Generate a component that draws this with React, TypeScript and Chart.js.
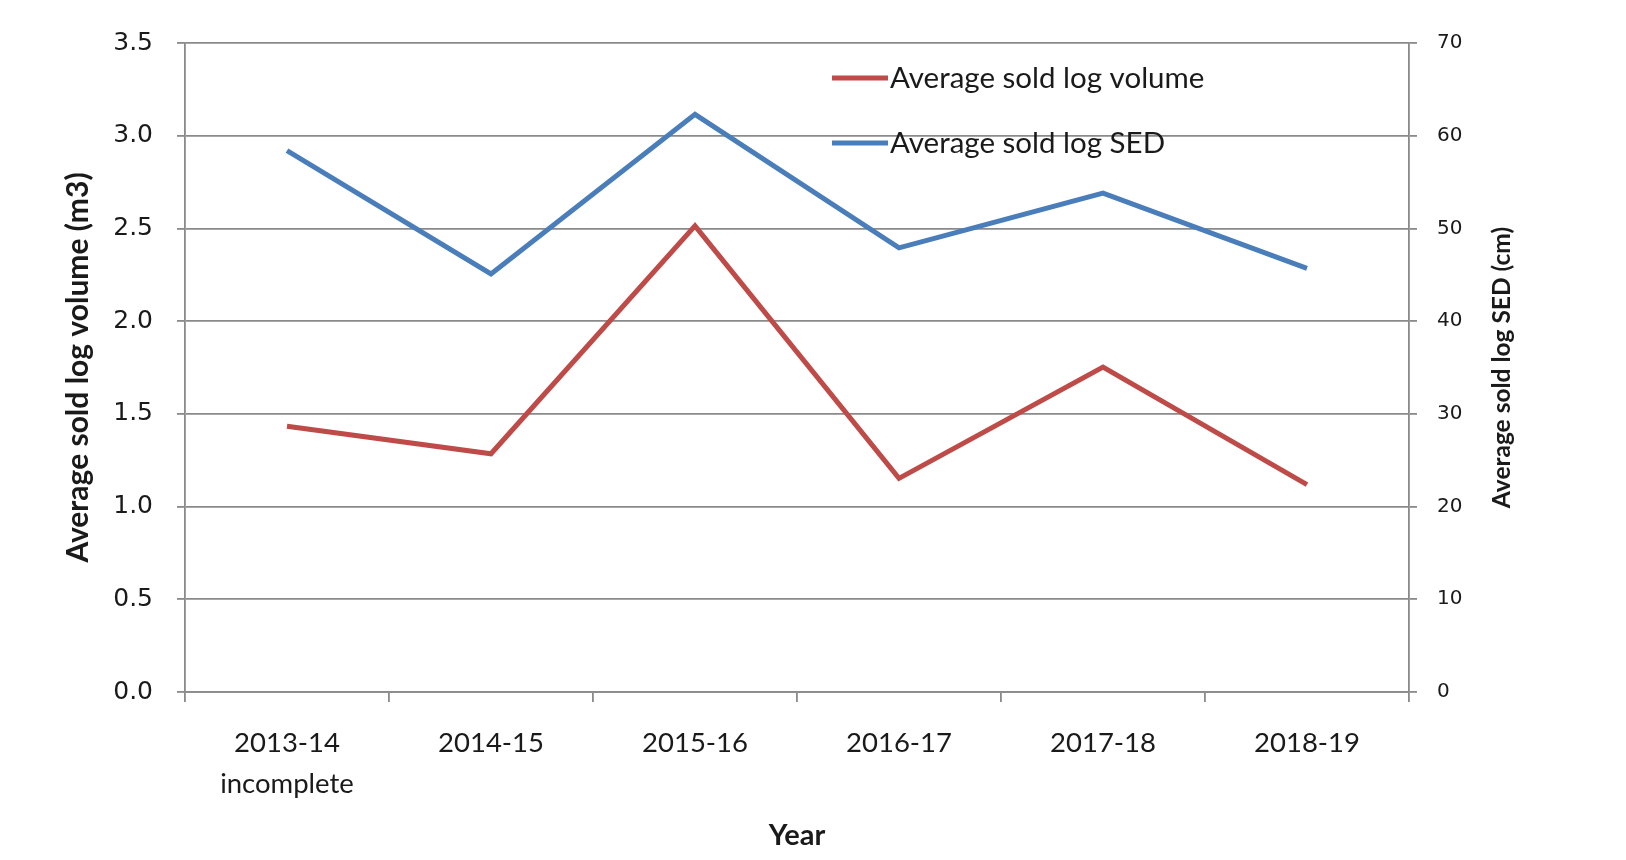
import React, { useEffect, useRef } from "react";
import { Chart, registerables } from "chart.js";

Chart.register(...registerables);

const categories: (string | string[])[] = [
  ["2013-14", "incomplete"],
  "2014-15",
  "2015-16",
  "2016-17",
  "2017-18",
  "2018-19",
];
const volumeValues = [1.433, 1.285, 2.514, 1.152, 1.752, 1.118];
const sedValues = [58.4, 45.1, 62.3, 47.9, 53.8, 45.7];
const seriesNames = ["Average sold log volume", "Average sold log SED"];
const leftTitle = "Average sold log volume (m3)";
const rightTitle = "Average sold log SED (cm)";
const xTitle = "Year";

const RED = "#BE4B48";
const BLUE = "#4A7EBB";
const GRID = "#8a8a8a";
const TEXT = "#1a1a1a";

const overlayPlugin = {
  id: "overlay",
  afterDatasetsDraw(chart: any) {
    const { ctx, chartArea } = chart;
    ctx.save();
    // legend inside plot
    const lx = chartArea.left + 647;
    const rows = [chartArea.top + 35, chartArea.top + 100];
    const colors = [RED, BLUE];
    ctx.font = "29.5px Lato";
    ctx.textBaseline = "middle";
    ctx.textAlign = "left";
    rows.forEach((y: number, i: number) => {
      ctx.strokeStyle = colors[i];
      ctx.lineWidth = 5;
      ctx.beginPath();
      ctx.moveTo(lx, y);
      ctx.lineTo(lx + 56, y);
      ctx.stroke();
      ctx.fillStyle = TEXT;
      ctx.fillText(seriesNames[i], lx + 58, y);
    });
    // right axis title (bottom-to-top)
    ctx.translate(1502, (chartArea.top + chartArea.bottom) / 2);
    ctx.rotate(-Math.PI / 2);
    ctx.font = "bold 24.5px Lato";
    ctx.textAlign = "center";
    ctx.fillStyle = TEXT;
    ctx.fillText(rightTitle, 0, 0);
    ctx.restore();
  },
};

export default function App() {
  const ref = useRef<HTMLCanvasElement>(null);
  useEffect(() => {
    if (!ref.current) return;
    const chart = new Chart(ref.current, {
      type: "line",
      data: {
        labels: categories,
        datasets: [
          {
            label: seriesNames[0],
            data: volumeValues,
            borderColor: RED,
            backgroundColor: RED,
            borderWidth: 5,
            pointRadius: 0,
            tension: 0,
            yAxisID: "y",
          },
          {
            label: seriesNames[1],
            data: sedValues,
            borderColor: BLUE,
            backgroundColor: BLUE,
            borderWidth: 5,
            pointRadius: 0,
            tension: 0,
            yAxisID: "y1",
          },
        ],
      },
      options: {
        animation: false,
        responsive: true,
        maintainAspectRatio: false,
        layout: { padding: { top: 43, left: 0, right: 0, bottom: 0 } },
        plugins: {
          legend: { display: false },
          tooltip: { enabled: false },
        },
        scales: {
          x: {
            type: "category",
            offset: true,
            grid: {
              offset: true,
              drawOnChartArea: false,
              drawTicks: true,
              tickLength: 10,
              color: GRID,
              lineWidth: 1.8,
            },
            border: { display: true, color: GRID, width: 1.8 },
            ticks: {
              color: TEXT,
              font: { family: "Lato", size: 27.5, lineHeight: 1.49 },
              padding: 21,
              maxRotation: 0,
              autoSkip: false,
            },
            title: {
              display: true,
              text: xTitle,
              color: TEXT,
              font: { family: "Lato", size: 29, weight: "bold" },
              padding: { top: 0, bottom: 7 },
            },
            afterFit: (s: any) => {
              s.height = 168;
            },
          },
          y: {
            type: "linear",
            position: "left",
            min: 0,
            max: 3.5,
            grid: {
              drawOnChartArea: true,
              drawTicks: true,
              tickLength: 8,
              color: GRID,
              lineWidth: 1.8,
            },
            border: { display: true, color: GRID, width: 1.8 },
            ticks: {
              stepSize: 0.5,
              color: TEXT,
              font: { family: "DejaVu Sans", size: 25 },
              padding: 24,
              callback: (v: any) => Number(v).toFixed(1),
            },
            title: {
              display: true,
              text: leftTitle,
              color: TEXT,
              font: { family: "Lato", size: 30, weight: "bold" },
              padding: { top: 60, bottom: 0 },
            },
            afterFit: (s: any) => {
              s.width = 185;
            },
          },
          y1: {
            type: "linear",
            position: "right",
            min: 0,
            max: 70,
            grid: {
              drawOnChartArea: false,
              drawTicks: true,
              tickLength: 8,
              color: GRID,
              lineWidth: 1.8,
            },
            border: { display: true, color: GRID, width: 1.8 },
            ticks: {
              stepSize: 10,
              color: TEXT,
              font: { family: "DejaVu Sans", size: 20 },
              padding: 20,
            },
            afterFit: (s: any) => {
              s.width = 217;
            },
          },
        },
      },
      plugins: [overlayPlugin],
    });
    return () => chart.destroy();
  }, []);
  return (
    <div style={{ position: "fixed", left: 0, top: 0, width: 1626, height: 860, background: "#fff" }}>
      <canvas ref={ref} />
    </div>
  );
}
